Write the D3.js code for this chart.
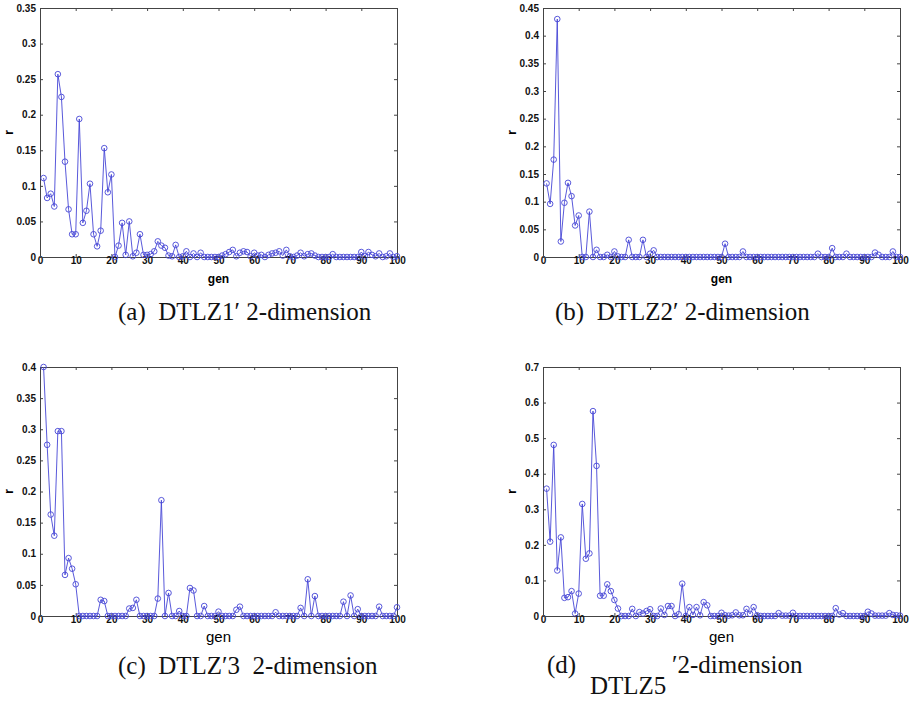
<!DOCTYPE html>
<html>
<head>
<meta charset="utf-8">
<script src="https://cdn.jsdelivr.net/npm/d3@7"></script>
<style>
  body { margin: 0; background: #fff; }
  svg { display: block; }
</style>
</head>
<body>
<svg></svg>
<script>
'use strict';

const width = 911, height = 701;

// generations 1..100
const gens = d3.range(1, 101);

// r per generation
const rA = [0.111,0.083,0.089,0.071,0.257,0.225,0.134,0.067,0.032,0.032,
  0.194,0.048,0.065,0.103,0.032,0.015,0.037,0.153,0.091,0.116,
  0,0.016,0.048,0.003,0.05,0.001,0.006,0.032,0.003,0.003,
  0.004,0.008,0.022,0.016,0.013,0.002,0.001,0.017,0,0.001,
  0.008,0,0.005,0,0.006,0,0,0,0,0,
  0.002,0.004,0.007,0.01,0.001,0.006,0.008,0.007,0.001,0.006,
  0.002,0.003,0,0.003,0.005,0.006,0.008,0.002,0.01,0.001,
  0,0.002,0.006,0.001,0.004,0.005,0.002,0,0,0,
  0,0.004,0,0,0,0,0,0,0,0.007,
  0.001,0.007,0.003,0.001,0.005,0,0.001,0.005,0,0.001];

const rB = [0.133,0.096,0.176,0.43,0.028,0.098,0.134,0.11,0.057,0.075,
  0,0,0.082,0,0.013,0,0,0.004,0,0.01,
  0.001,0,0,0.031,0,0,0,0.031,0,0.006,
  0.012,0,0,0,0,0,0,0,0,0,
  0,0,0,0,0,0,0,0,0,0,
  0.024,0,0,0,0,0.01,0,0,0,0,
  0,0,0,0,0,0,0,0,0,0,
  0,0,0,0,0,0,0.006,0,0,0,
  0.016,0,0,0,0.006,0,0,0,0,0,
  0,0,0.008,0.004,0,0,0,0.01,0,0];

const rC = [0.4,0.275,0.163,0.129,0.297,0.297,0.066,0.093,0.076,0.051,
  0,0,0,0,0,0,0.026,0.024,0,0,
  0,0,0,0,0.012,0.013,0.026,0,0,0,
  0,0,0.028,0.186,0,0.037,0,0,0.008,0,
  0,0.045,0.041,0,0,0.016,0,0,0,0.007,
  0,0,0,0,0.01,0.015,0,0,0,0,
  0,0,0,0,0,0.006,0,0,0,0,
  0,0,0.013,0,0.059,0,0.032,0,0,0,
  0,0,0,0,0.023,0,0.033,0,0.011,0,
  0,0,0,0,0.015,0,0,0,0,0.014];

const rD = [0.358,0.209,0.481,0.128,0.221,0.051,0.053,0.07,0.007,0.063,
  0.315,0.161,0.176,0.576,0.422,0.057,0.057,0.089,0.07,0.045,
  0.021,0,0,0,0.02,0,0.011,0.007,0.014,0.019,
  0,0,0.021,0.003,0.028,0.028,0,0.005,0.091,0,
  0.025,0.003,0.025,0.002,0.039,0.03,0,0,0,0.009,
  0.002,0.001,0.002,0.01,0.002,0.002,0.02,0.006,0.025,0.002,
  0,0,0,0,0,0.008,0.001,0.001,0.001,0.009,
  0,0,0,0,0,0,0,0,0,0,
  0,0.022,0.004,0.008,0,0,0,0,0,0,
  0.012,0.007,0.001,0.001,0.001,0.001,0.008,0.003,0.002,0.001];

const xTicks = d3.range(0, 101, 10);
const yMaxes = [0.35, 0.45, 0.4, 0.7];
const ySteps = [0.05, 0.05, 0.05, 0.1];

const panels = [
  {values: rA, left: 40,  top: 8,   ymax: yMaxes[0], step: ySteps[0], row: 0},
  {values: rB, left: 543, top: 8,   ymax: yMaxes[1], step: ySteps[1], row: 0},
  {values: rC, left: 40,  top: 367, ymax: yMaxes[2], step: ySteps[2], row: 1},
  {values: rD, left: 543, top: 367, ymax: yMaxes[3], step: ySteps[3], row: 1}
];
const pw = 357, ph = 249;
const blue = "#4646d6";

let svg = d3.select("svg")
  .attr("width", width)
  .attr("height", height)
  .attr("viewBox", [0, 0, width, height]);

svg.append("rect").attr("width", width).attr("height", height).attr("fill", "#fff");

let fmt = d => d === 0 ? "0" : String(+d.toFixed(2));

panels.forEach(p => {
  let g = svg.append("g").attr("transform", `translate(${p.left},${p.top})`);

  let x = d3.scaleLinear().domain([0, 100]).range([0, pw]);
  let y = d3.scaleLinear().domain([0, p.ymax]).range([ph, 0]);
  let yTicks = d3.range(0, p.ymax + 1e-9, p.step).map(v => +v.toFixed(2));

  // box with inward ticks on all four sides
  g.append("g")
    .attr("transform", `translate(0,${ph})`)
    .call(d3.axisBottom(x).tickValues(xTicks).tickSizeInner(-3).tickSizeOuter(0).tickFormat(d3.format("d")))
    .call(a => a.selectAll("text").attr("dy", "0.1em").attr("y", 6));
  g.append("g")
    .call(d3.axisTop(x).tickValues(xTicks).tickSizeInner(-3).tickSizeOuter(0).tickFormat(""));
  g.append("g")
    .call(d3.axisLeft(y).tickValues(yTicks).tickSizeInner(-3).tickSizeOuter(0).tickFormat(fmt))
    .call(a => a.selectAll("text").attr("x", -4));
  g.append("g")
    .attr("transform", `translate(${pw},0)`)
    .call(d3.axisRight(y).tickValues(yTicks).tickSizeInner(-3).tickSizeOuter(0).tickFormat(""));

  g.selectAll(".domain").attr("stroke", "#444");
  g.selectAll(".tick line").attr("stroke", "#444");
  g.selectAll(".tick text")
    .attr("font-family", "Liberation Sans, Arial, sans-serif")
    .attr("font-weight", "bold")
    .attr("font-size", 10)
    .attr("fill", "#111");

  let line = d3.line().x((d, i) => x(gens[i])).y(d => y(d));
  g.append("path")
    .datum(p.values)
    .attr("fill", "none")
    .attr("stroke", blue)
    .attr("stroke-width", 0.9)
    .attr("d", line);

  g.append("g")
    .selectAll("circle")
    .data(p.values)
    .join("circle")
      .attr("cx", (d, i) => x(gens[i]))
      .attr("cy", d => y(d))
      .attr("r", 2.8)
      .attr("fill", "none")
      .attr("stroke", blue)
      .attr("stroke-width", 0.9);

  // axis titles
  g.append("text")
    .attr("transform", `translate(-27,${ph / 2}) rotate(-90)`)
    .attr("text-anchor", "middle")
    .attr("font-family", "Liberation Sans, Arial, sans-serif")
    .attr("font-weight", "bold")
    .attr("font-size", 13)
    .text("r");

  g.append("text")
    .attr("x", pw / 2)
    .attr("y", ph + 26)
    .attr("text-anchor", "middle")
    .attr("font-family", "Liberation Sans, Arial, sans-serif")
    .attr("font-weight", p.row === 0 ? "bold" : "normal")
    .attr("font-size", p.row === 0 ? 12 : 15)
    .text("gen");
});

// sub-figure captions
const captions = [
  {x: 118, y: 320, text: "(a)\u00a0\u00a0DTLZ1\u2032 2-dimension"},
  {x: 555, y: 320, text: "(b)\u00a0\u00a0DTLZ2\u2032 2-dimension"},
  {x: 118, y: 674, text: "(c)\u00a0\u00a0DTLZ\u20323\u00a0\u00a02-dimension"}
];
let cap = svg.append("g")
  .attr("font-family", "Liberation Serif, Times New Roman, serif")
  .attr("font-size", 25)
  .attr("fill", "#111");
cap.selectAll("text.c")
  .data(captions)
  .join("text")
    .attr("class", "c")
    .attr("x", d => d.x)
    .attr("y", d => d.y)
    .text(d => d.text);

cap.append("text").attr("x", 547).attr("y", 673).text("(d)");
cap.append("text").attr("x", 590).attr("y", 694).text("DTLZ5");
cap.append("text").attr("x", 672).attr("y", 673).text("\u20322-dimension");
</script>
</body>
</html>
